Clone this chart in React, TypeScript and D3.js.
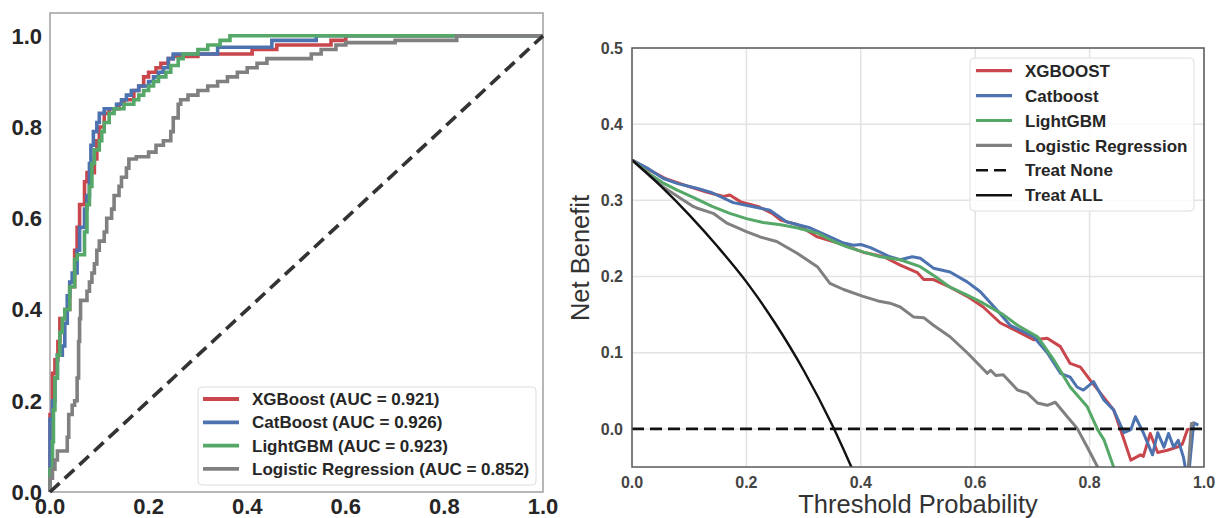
import React from "react";
import * as d3 from "d3";

// ---------- ROC data (fpr, tpr at which tpr climbs) ----------
const rocXGB: [number, number][] = [
  [0, 0], [0, 0.17], [0.005, 0.26], [0.01, 0.29], [0.016, 0.33], [0.02, 0.38], [0.03, 0.4],
  [0.04, 0.45], [0.05, 0.53], [0.055, 0.58], [0.06, 0.63], [0.07, 0.68], [0.075, 0.7],
  [0.09, 0.73], [0.095, 0.77], [0.1, 0.8], [0.11, 0.83], [0.12, 0.84], [0.14, 0.85],
  [0.15, 0.86], [0.17, 0.88], [0.18, 0.89], [0.19, 0.91], [0.2, 0.92], [0.215, 0.93],
  [0.225, 0.94], [0.24, 0.95], [0.25, 0.955], [0.3, 0.96], [0.41, 0.97], [0.46, 0.98],
  [0.57, 0.99], [0.6, 1.0], [1.0, 1.0],
];
const rocCat: [number, number][] = [
  [0, 0], [0, 0.16], [0.005, 0.2], [0.01, 0.25], [0.015, 0.3], [0.025, 0.32], [0.03, 0.37],
  [0.035, 0.43], [0.04, 0.46], [0.045, 0.48], [0.055, 0.53], [0.06, 0.58], [0.07, 0.62],
  [0.075, 0.65], [0.08, 0.72], [0.083, 0.76], [0.088, 0.79], [0.095, 0.81], [0.1, 0.83],
  [0.11, 0.84], [0.135, 0.85], [0.145, 0.86], [0.155, 0.87], [0.165, 0.88], [0.18, 0.89],
  [0.2, 0.9], [0.21, 0.91], [0.22, 0.92], [0.23, 0.93], [0.24, 0.95], [0.25, 0.96],
  [0.34, 0.975], [0.45, 0.99], [0.54, 1.0], [1.0, 1.0],
];
const rocLGB: [number, number][] = [
  [0, 0], [0, 0.05], [0.005, 0.11], [0.007, 0.18], [0.01, 0.25], [0.015, 0.3], [0.02, 0.35],
  [0.025, 0.38], [0.03, 0.4], [0.04, 0.45], [0.05, 0.51], [0.055, 0.52], [0.07, 0.57],
  [0.075, 0.63], [0.08, 0.67], [0.085, 0.72], [0.09, 0.75], [0.1, 0.77], [0.105, 0.79],
  [0.11, 0.81], [0.12, 0.83], [0.13, 0.84], [0.15, 0.85], [0.17, 0.86], [0.18, 0.87],
  [0.19, 0.88], [0.2, 0.89], [0.21, 0.9], [0.22, 0.91], [0.235, 0.92], [0.245, 0.935],
  [0.26, 0.95], [0.27, 0.96], [0.3, 0.97], [0.32, 0.98], [0.345, 0.99], [0.365, 1.0], [1.0, 1.0],
];
const rocLR: [number, number][] = [
  [0, 0], [0, 0.03], [0.005, 0.05], [0.01, 0.07], [0.015, 0.09], [0.035, 0.12], [0.038, 0.17],
  [0.045, 0.19], [0.05, 0.2], [0.055, 0.25], [0.058, 0.33], [0.06, 0.38], [0.062, 0.42],
  [0.075, 0.44], [0.08, 0.46], [0.085, 0.48], [0.09, 0.5], [0.095, 0.53], [0.1, 0.55],
  [0.11, 0.57], [0.115, 0.6], [0.125, 0.62], [0.13, 0.65], [0.14, 0.67], [0.145, 0.69],
  [0.155, 0.71], [0.16, 0.73], [0.175, 0.735], [0.2, 0.745], [0.215, 0.76], [0.23, 0.77],
  [0.245, 0.79], [0.25, 0.82], [0.26, 0.85], [0.265, 0.86], [0.28, 0.87], [0.3, 0.88],
  [0.32, 0.89], [0.34, 0.9], [0.36, 0.91], [0.38, 0.92], [0.4, 0.93], [0.42, 0.94],
  [0.44, 0.95], [0.53, 0.96], [0.55, 0.97], [0.58, 0.98], [0.6, 0.985], [0.7, 0.99],
  [0.825, 1.0], [1.0, 1.0],
];
const rocLabels = [
  "XGBoost (AUC = 0.921)",
  "CatBoost (AUC = 0.926)",
  "LightGBM (AUC = 0.923)",
  "Logistic Regression (AUC = 0.852)",
];
const rocTicks = [0, 0.2, 0.4, 0.6, 0.8, 1.0];

// ---------- Decision curve data (threshold, net benefit) ----------
const dcaXGB: [number, number][] = [
  [0, 0.353], [0.03, 0.34], [0.06, 0.328], [0.1, 0.318], [0.13, 0.311], [0.16, 0.305],
  [0.171, 0.307], [0.19, 0.298], [0.22, 0.292], [0.245, 0.283], [0.26, 0.274], [0.29, 0.268],
  [0.324, 0.252], [0.36, 0.244], [0.404, 0.232], [0.44, 0.226], [0.469, 0.215], [0.499, 0.205],
  [0.51, 0.196], [0.527, 0.196], [0.556, 0.186], [0.586, 0.174], [0.614, 0.16], [0.644, 0.139],
  [0.674, 0.128], [0.702, 0.117], [0.726, 0.119], [0.749, 0.108], [0.766, 0.086], [0.784, 0.081],
  [0.801, 0.064], [0.819, 0.047], [0.842, 0.025], [0.86, -0.014], [0.872, -0.041], [0.889, -0.034],
  [0.894, -0.036], [0.906, -0.006], [0.919, -0.031], [0.936, -0.028], [0.953, -0.024],
  [0.962, -0.02], [0.971, -0.001], [0.975, 0.0],
];
const dcaCat: [number, number][] = [
  [0, 0.353], [0.03, 0.341], [0.054, 0.329], [0.08, 0.322], [0.113, 0.316], [0.14, 0.31],
  [0.177, 0.297], [0.21, 0.292], [0.241, 0.287], [0.27, 0.272], [0.29, 0.268], [0.311, 0.264],
  [0.346, 0.252], [0.37, 0.244], [0.387, 0.241], [0.4, 0.242], [0.417, 0.238], [0.451, 0.226],
  [0.469, 0.222], [0.49, 0.226], [0.504, 0.224], [0.527, 0.211], [0.556, 0.206], [0.586, 0.193],
  [0.609, 0.18], [0.638, 0.156], [0.661, 0.136], [0.702, 0.121], [0.726, 0.1], [0.749, 0.073],
  [0.766, 0.068], [0.778, 0.055], [0.789, 0.051], [0.807, 0.062], [0.825, 0.038], [0.842, 0.025],
  [0.86, -0.005], [0.872, -0.001], [0.88, 0.016], [0.894, -0.005], [0.91, -0.034], [0.919, -0.005],
  [0.93, -0.024], [0.938, -0.006], [0.947, -0.024], [0.955, -0.015], [0.964, -0.037],
  [0.972, -0.07], [0.982, 0.008], [0.99, 0.005],
];
const dcaLGB: [number, number][] = [
  [0, 0.353], [0.03, 0.335], [0.054, 0.323], [0.08, 0.313], [0.107, 0.304], [0.14, 0.292],
  [0.171, 0.283], [0.2, 0.276], [0.229, 0.271], [0.26, 0.268], [0.288, 0.264], [0.324, 0.257],
  [0.35, 0.247], [0.376, 0.239], [0.405, 0.232], [0.434, 0.226], [0.469, 0.222], [0.504, 0.213],
  [0.53, 0.2], [0.556, 0.186], [0.585, 0.176], [0.614, 0.165], [0.649, 0.15], [0.674, 0.136],
  [0.709, 0.121], [0.737, 0.091], [0.766, 0.055], [0.796, 0.029], [0.814, -0.001],
  [0.825, -0.014], [0.842, -0.05], [0.85, -0.07],
];
const dcaLR: [number, number][] = [
  [0, 0.353], [0.03, 0.333], [0.054, 0.318], [0.08, 0.305], [0.107, 0.292], [0.113, 0.29],
  [0.142, 0.283], [0.166, 0.27], [0.2, 0.259], [0.224, 0.252], [0.253, 0.246], [0.288, 0.231],
  [0.324, 0.213], [0.346, 0.191], [0.37, 0.183], [0.404, 0.174], [0.43, 0.168], [0.451, 0.165],
  [0.469, 0.16], [0.492, 0.147], [0.51, 0.146], [0.527, 0.136], [0.556, 0.121], [0.586, 0.1],
  [0.621, 0.073], [0.627, 0.077], [0.636, 0.07], [0.649, 0.071], [0.674, 0.051], [0.691, 0.047],
  [0.709, 0.034], [0.726, 0.031], [0.74, 0.035], [0.761, 0.016], [0.778, 0.001], [0.796, -0.024],
  [0.814, -0.05], [0.83, -0.08], [0.968, -0.1], [0.978, 0.007], [0.983, 0.007],
];
const treatAll: [number, number][] = [
  [0, 0.353], [0.05, 0.319], [0.1, 0.281], [0.15, 0.239], [0.2, 0.193], [0.25, 0.139],
  [0.3, 0.077], [0.35, 0.005], [0.38, -0.044], [0.4, -0.078],
];
const treatNone: [number, number][] = [[0, 0], [1, 0]];
const dcaLabels = ["XGBOOST", "Catboost", "LightGBM", "Logistic Regression", "Treat None", "Treat ALL"];
const dcaXTicks = [0, 0.2, 0.4, 0.6, 0.8, 1.0];
const dcaYTicks = [0, 0.1, 0.2, 0.3, 0.4, 0.5];

const COLORS = ["#C9474C", "#4C72B0", "#55A868", "#808080"];
const FONT = "'Liberation Sans', Arial, Helvetica, sans-serif";

export default function App() {
  const xL = d3.scaleLinear().domain([0, 1]).range([50, 543]);
  const yL = d3.scaleLinear().domain([0, 1.05]).range([492, 13]);
  const xR = d3.scaleLinear().domain([0, 1]).range([632, 1204]);
  const yR = d3.scaleLinear().domain([-0.05, 0.5]).range([467, 48]);

  const rocLine = d3
    .line<[number, number]>()
    .x((d) => xL(d[0]))
    .y((d) => yL(d[1]))
    .curve(d3.curveStepAfter);
  const dcaLine = d3
    .line<[number, number]>()
    .x((d) => xR(d[0]))
    .y((d) => yR(d[1]));
  const allLine = d3
    .line<[number, number]>()
    .x((d) => xR(d[0]))
    .y((d) => yR(d[1]))
    .curve(d3.curveMonotoneX);

  const rocSeries = [rocXGB, rocCat, rocLGB, rocLR];
  const dcaSeries = [dcaXGB, dcaCat, dcaLGB, dcaLR];

  const fmt = d3.format(".1f");

  return (
    <svg
      width={1218}
      height={518}
      style={{ position: "absolute", left: 0, top: 0, background: "#fff" }}
      fontFamily={FONT}
    >
      <defs>
        <clipPath id="clipR">
          <rect x={632} y={48} width={572} height={419} />
        </clipPath>
      </defs>

      {/* ===== LEFT: ROC ===== */}
      <rect x={50} y={13} width={493} height={479} fill="#fff" stroke="#a6a6a6" strokeWidth={1.6} />
      {rocSeries.map((s, i) => (
        <path key={i} d={rocLine(s) || ""} fill="none" stroke={COLORS[i]} strokeWidth={3.6} strokeLinejoin="miter" />
      ))}
      <line
        x1={xL(0)}
        y1={yL(0)}
        x2={xL(1)}
        y2={yL(1)}
        stroke="#333"
        strokeWidth={3.6}
        strokeDasharray="13,7"
      />
      {rocTicks.map((t) => (
        <text key={"ly" + t} x={42} y={yL(t)} dy="0.36em" textAnchor="end" fontSize={22} fontWeight="bold" fill="#262626">
          {fmt(t)}
        </text>
      ))}
      {rocTicks.map((t) => (
        <text key={"lx" + t} x={xL(t)} y={514} textAnchor="middle" fontSize={22} fontWeight="bold" fill="#262626">
          {fmt(t)}
        </text>
      ))}
      {/* ROC legend */}
      <rect x={198} y={387} width={338} height={98} rx={4} fill="#fff" fillOpacity={0.85} stroke="#dcdcdc" strokeWidth={1} />
      {rocLabels.map((lab, i) => {
        const y = 399 + i * 23.3;
        return (
          <g key={lab}>
            <line x1={203} x2={239} y1={y} y2={y} stroke={COLORS[i]} strokeWidth={3.8} />
            <text x={252} y={y} dy="0.36em" fontSize={17} fontWeight="bold" fill="#262626">
              {lab}
            </text>
          </g>
        );
      })}

      {/* ===== RIGHT: DCA ===== */}
      <rect x={632} y={48} width={572} height={419} fill="#fff" />
      {dcaXTicks.map((t) => (
        <line key={"gx" + t} x1={xR(t)} x2={xR(t)} y1={48} y2={467} stroke="#e3e3e3" strokeWidth={1.5} />
      ))}
      {dcaYTicks.map((t) => (
        <line key={"gy" + t} x1={632} x2={1204} y1={yR(t)} y2={yR(t)} stroke="#e3e3e3" strokeWidth={1.5} />
      ))}
      <g clipPath="url(#clipR)">
        {dcaSeries.map((s, i) => (
          <path key={i} d={dcaLine(s) || ""} fill="none" stroke={COLORS[i]} strokeWidth={3} strokeLinejoin="round" />
        ))}
        <path d={dcaLine(treatNone) || ""} fill="none" stroke="#111" strokeWidth={2.8} strokeDasharray="12,6" />
        <path d={allLine(treatAll) || ""} fill="none" stroke="#111" strokeWidth={2.4} />
      </g>
      <rect x={632} y={48} width={572} height={419} fill="none" stroke="#5a5a5a" strokeWidth={1.5} />
      {dcaYTicks.map((t) => (
        <text key={"ry" + t} x={623} y={yR(t)} dy="0.36em" textAnchor="end" fontSize={16} fontWeight="bold" fill="#444">
          {fmt(t)}
        </text>
      ))}
      {dcaXTicks.map((t) => (
        <text key={"rx" + t} x={xR(t)} y={488} textAnchor="middle" fontSize={16} fontWeight="bold" fill="#444">
          {fmt(t)}
        </text>
      ))}
      <text x={918} y={513} textAnchor="middle" fontSize={25.5} fill="#333">
        Threshold Probability
      </text>
      <text transform="translate(589,258) rotate(-90)" textAnchor="middle" fontSize={25.5} fill="#333">
        Net Benefit
      </text>
      {/* DCA legend */}
      <rect x={970} y={58} width={224} height={153} rx={4} fill="#fff" fillOpacity={0.85} stroke="#dedede" strokeWidth={1} />
      {dcaLabels.map((lab, i) => {
        const y = 70.7 + i * 24.9;
        const color = i < 4 ? COLORS[i] : "#111";
        return (
          <g key={lab}>
            <line
              x1={976}
              x2={1012}
              y1={y}
              y2={y}
              stroke={color}
              strokeWidth={i < 4 ? 3.2 : 2.6}
              strokeDasharray={i === 4 ? "12,6" : undefined}
            />
            <text x={1025} y={y} dy="0.36em" fontSize={17} fontWeight="bold" fill="#262626">
              {lab}
            </text>
          </g>
        );
      })}
    </svg>
  );
}
